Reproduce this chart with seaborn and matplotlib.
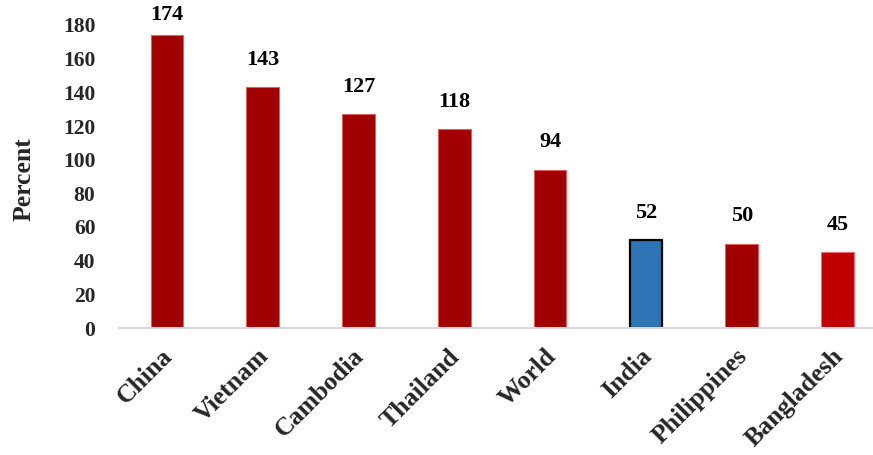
import matplotlib
matplotlib.use("Agg")
import matplotlib.pyplot as plt
import matplotlib.transforms as mtransforms
import seaborn as sns
import pandas as pd

countries = ["China", "Vietnam", "Cambodia", "Thailand", "World", "India", "Philippines", "Bangladesh"]
percent = [174, 143, 127, 118, 94, 52, 50, 45]
bar_colors = ["#A00000", "#A00000", "#A00000", "#A00000", "#A00000", "#2E75B6", "#A00000", "#C00000"]
edge_colors = ["#E06060", "#E06060", "#E06060", "#E06060", "#E06060", "#000000", "#E06060", "#E87070"]
y_ticks = [0, 20, 40, 60, 80, 100, 120, 140, 160, 180]

sns.set_theme(style="white")
plt.rcParams["font.family"] = ["Liberation Serif", "DejaVu Serif"]
plt.rcParams["font.weight"] = "bold"

df = pd.DataFrame({"country": countries, "percent": percent})

fig = plt.figure(figsize=(8.73, 4.55), dpi=100)
ax = fig.add_axes([119 / 873, 127 / 455, (873 - 119) / 873, 303 / 455])

sns.barplot(data=df, x="country", y="percent", hue="country",
            palette=dict(zip(countries, bar_colors)), legend=False,
            width=0.34, ax=ax, saturation=1)

for patch, ec, c in zip(ax.patches, edge_colors, countries):
    patch.set_edgecolor(ec)
    patch.set_linewidth(1.6 if c == "India" else 0.8)

for patch, v in zip(ax.patches, percent):
    x = patch.get_x() + patch.get_width() / 2
    off = 7.5 if v > 165 else 12.5
    ax.annotate(f"{v}", (x, v), xytext=(0, off), textcoords="offset points",
                ha="center", va="bottom", fontsize=16, fontweight="bold",
                color="black", annotation_clip=False)

ax.set_ylim(0, 180)
ax.set_xlim(-0.5, 7.37)
ax.set_yticks(y_ticks)
ax.set_yticklabels([str(t) for t in y_ticks], fontsize=15.5, fontweight="bold")
ax.tick_params(axis="y", length=0, pad=17)
ax.tick_params(axis="x", length=0, pad=12)

# nudge the slanted category labels slightly left of their ticks
shift = mtransforms.ScaledTranslation(-6 / 100, 0, fig.dpi_scale_trans)
for lbl in ax.get_xticklabels():
    lbl.set_rotation(45)
    lbl.set_ha("right")
    lbl.set_rotation_mode("anchor")
    lbl.set_fontsize(18.5)
    lbl.set_fontweight("bold")
    lbl.set_transform(lbl.get_transform() + shift)

ax.set_xlabel("")
ax.set_ylabel("Percent", fontsize=18.5, fontweight="bold")
ax.yaxis.set_label_coords(-0.11, 0.49)

for side in ["left", "right", "top"]:
    ax.spines[side].set_visible(False)
ax.spines["bottom"].set_color("#D9D9D9")
ax.spines["bottom"].set_linewidth(1.5)
ax.grid(False)

fig.savefig("out.png", dpi=100)
